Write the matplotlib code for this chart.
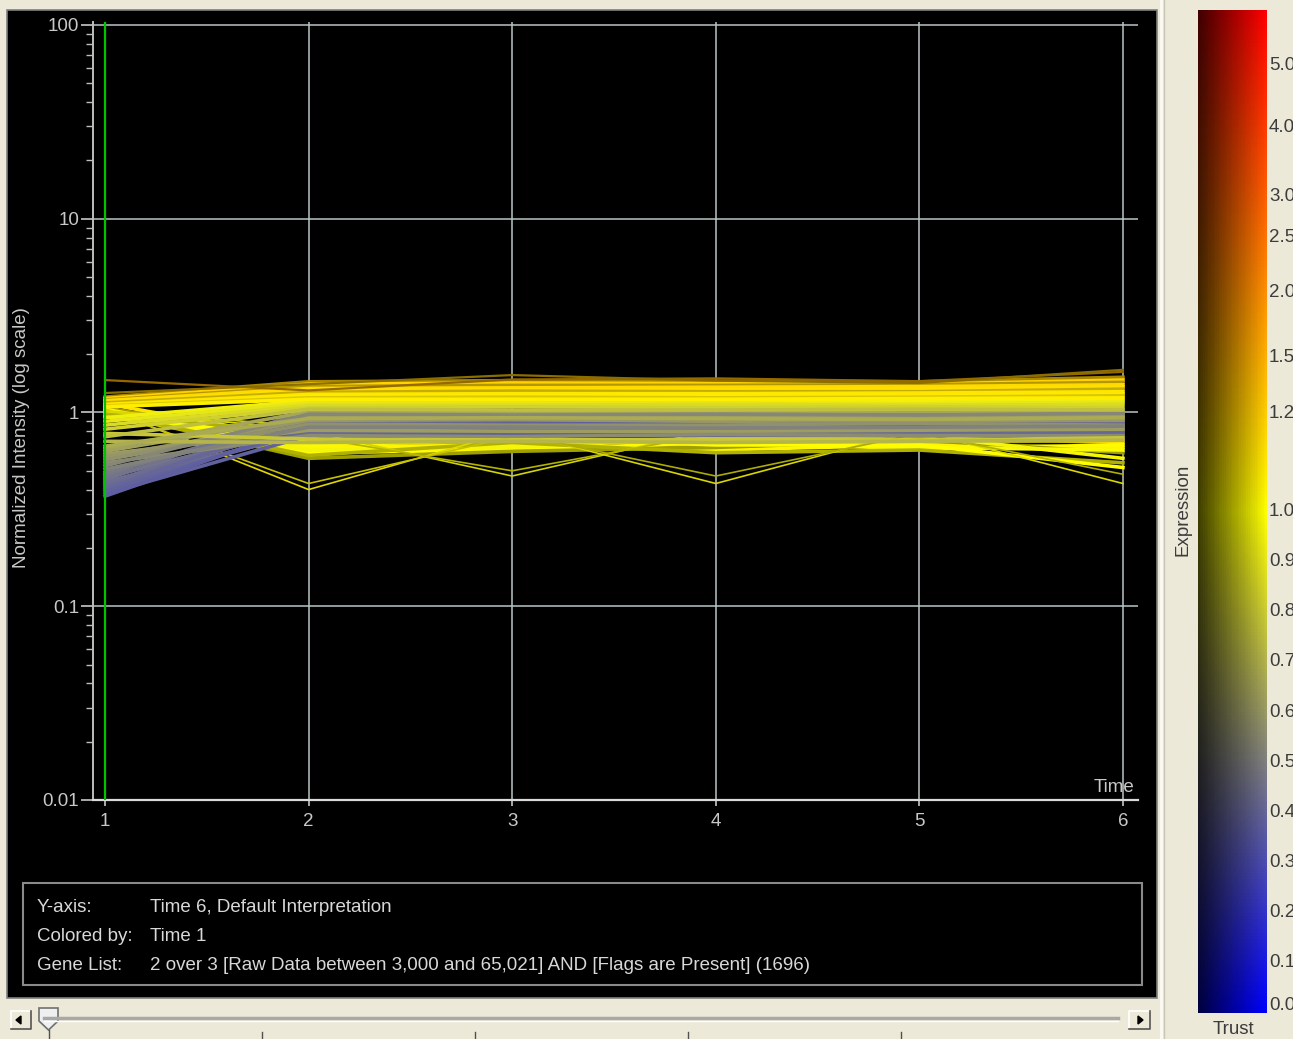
import numpy as np
import matplotlib.pyplot as plt
from matplotlib.patches import Rectangle, Polygon
from matplotlib.ticker import LogLocator, NullFormatter

plt.rcParams['font.family'] = ['Liberation Sans', 'DejaVu Sans']

W, H = 1305, 1039

# ---- data ----
times = [1, 2, 3, 4, 5, 6]
time_labels = ['1', '2', '3', '4', '5', '6']

# genes that start high and stay on top of the band
upper_profiles = [
    [1.20, 1.44, 1.46, 1.45, 1.44, 1.52],
    [1.18, 1.40, 1.42, 1.41, 1.40, 1.47],
    [1.16, 1.36, 1.38, 1.38, 1.39, 1.43],
    [1.15, 1.33, 1.34, 1.35, 1.36, 1.39],
    [1.13, 1.30, 1.31, 1.31, 1.32, 1.36],
    [1.12, 1.27, 1.29, 1.28, 1.28, 1.32],
    [1.10, 1.24, 1.25, 1.25, 1.26, 1.28],
    [1.09, 1.22, 1.22, 1.23, 1.22, 1.25],
    [1.08, 1.19, 1.20, 1.19, 1.20, 1.22],
    [1.07, 1.17, 1.17, 1.17, 1.18, 1.19],
]
upper_trust = [0.55, 1, 0.6, 1, 1, 0.7, 1, 1, 0.8, 1]

# pale yellow genes
middle_profiles = [
    [0.94, 1.15, 1.14, 1.15, 1.15, 1.16],
    [0.90, 1.12, 1.13, 1.12, 1.11, 1.13],
    [0.86, 1.09, 1.09, 1.10, 1.09, 1.10],
    [0.82, 1.06, 1.07, 1.06, 1.07, 1.06],
    [0.78, 0.73, 0.72, 0.73, 0.72, 0.74],
    [0.75, 1.04, 1.03, 1.03, 1.04, 1.03],
    [0.71, 0.70, 0.71, 0.70, 0.71, 0.72],
    [0.67, 0.93, 0.94, 0.93, 0.92, 0.94],
]

gray_profiles = [
    [0.65, 1.01, 1.00, 1.02, 1.01, 1.00],
    [0.63, 0.95, 0.93, 0.95, 0.94, 0.96],
    [0.61, 0.81, 0.80, 0.80, 0.81, 0.82],
    [0.59, 0.91, 0.92, 0.90, 0.91, 0.91],
    [0.57, 0.87, 0.86, 0.86, 0.88, 0.86],
    [0.55, 0.76, 0.75, 0.77, 0.76, 0.76],
    [0.53, 0.98, 0.97, 0.98, 0.97, 0.99],
    [0.51, 0.84, 0.84, 0.83, 0.84, 0.85],
]

blue_profiles = [
    [0.49, 0.90, 0.88, 0.91, 0.89, 0.90],
    [0.48, 0.97, 0.99, 0.96, 0.98, 0.97],
    [0.47, 0.82, 0.84, 0.83, 0.82, 0.84],
    [0.46, 0.86, 0.85, 0.86, 0.87, 0.85],
    [0.45, 1.03, 1.02, 1.04, 1.03, 1.02],
    [0.44, 0.78, 0.79, 0.78, 0.79, 0.80],
    [0.43, 0.93, 0.92, 0.94, 0.93, 0.92],
    [0.42, 0.88, 0.89, 0.87, 0.88, 0.88],
    [0.41, 0.80, 0.78, 0.81, 0.80, 0.79],
    [0.40, 0.95, 0.95, 0.94, 0.96, 0.95],
    [0.39, 0.84, 0.82, 0.84, 0.85, 0.83],
    [0.38, 0.76, 0.77, 0.76, 0.76, 0.77],
    [0.37, 0.86, 0.87, 0.88, 0.86, 0.87],
]

# genes that start high and fall to the lower edge
falling_profiles = [
    [1.11, 0.72, 0.70, 0.72, 0.74, 0.70],
    [1.06, 0.70, 0.66, 0.68, 0.70, 0.72],
    [1.04, 0.66, 0.68, 0.64, 0.68, 0.66],
    [1.02, 0.62, 0.64, 0.70, 0.65, 0.68],
    [1.00, 0.58, 0.63, 0.66, 0.72, 0.62],
    [0.98, 0.68, 0.72, 0.70, 0.66, 0.64],
    [0.96, 0.64, 0.66, 0.74, 0.76, 0.58],
    [0.99, 0.60, 0.70, 0.62, 0.64, 0.55],
    [1.01, 0.70, 0.74, 0.68, 0.68, 0.52],
]
falling_trust = [1, 0.55, 1, 1, 0.5, 1, 1, 0.6, 1]

# single-point dips forming the zig-zag lower edge
dip_profiles = [
    [1.05, 0.40, 0.80, 0.85, 0.80, 0.85],
    [1.03, 0.43, 0.75, 0.80, 0.78, 0.80],
    [0.97, 0.80, 0.47, 0.82, 0.80, 0.85],
    [1.00, 0.75, 0.50, 0.78, 0.75, 0.80],
    [1.02, 0.85, 0.80, 0.43, 0.82, 0.80],
    [0.95, 0.80, 0.78, 0.47, 0.78, 0.82],
    [1.01, 0.82, 0.80, 0.82, 0.80, 0.43],
    [0.98, 0.78, 0.82, 0.80, 0.78, 0.48],
]
dip_trust = [0.85, 0.7, 0.8, 0.6, 0.8, 0.6, 0.8, 0.6]

outlier_profiles = [
    [1.47, 1.30, 1.48, 1.50, 1.45, 1.62],
    [1.26, 1.40, 1.56, 1.46, 1.42, 1.66],
]
outlier_trust = [0.45, 0.4]

# colour bar: expression values and where their labels sit (fraction of bar height)
cbar_values = [0.0, 0.1, 0.2, 0.3, 0.4, 0.5, 0.6, 0.7, 0.8, 0.9, 1.0,
               1.2, 1.5, 2.0, 2.5, 3.0, 4.0, 5.0]
cbar_labels = ['0.0', '0.1', '0.2', '0.3', '0.4', '0.5', '0.6', '0.7', '0.8', '0.9',
               '1.0', '1.2', '1.5', '2.0', '2.5', '3.0', '4.0', '5.0']
cbar_pos = [0.0, 0.05, 0.10, 0.15, 0.20, 0.25, 0.30, 0.35, 0.40, 0.45, 0.50,
            0.598, 0.654, 0.718, 0.773, 0.814, 0.883, 0.945]

ytick_values = [0.01, 0.1, 1, 10, 100]
ytick_labels = ['0.01', '0.1', '1', '10', '100']

info_keys = ['Y-axis:', 'Colored by:', 'Gene List:']
info_vals = ['Time 6, Default Interpretation',
             'Time 1',
             '2 over 3 [Raw Data between 3,000 and 65,021] AND [Flags are Present] (1696)']


def px_rect(x0, y0, x1, y1):
    return [x0 / W, 1 - y1 / H, (x1 - x0) / W, (y1 - y0) / H]


def ftext(x, y, s, **kw):
    return fig.text(x / W, 1 - y / H, s, **kw)


def pos_color(pos):
    pos = np.asarray(pos, dtype=float)
    lo = np.clip(pos / 0.5, 0, 1)
    hi = np.clip((pos - 0.5) / 0.5, 0, 1)
    r = np.where(pos <= 0.5, lo, 1.0)
    g = np.where(pos <= 0.5, lo, 1 - hi)
    b = np.where(pos <= 0.5, 1 - lo, 0.0)
    return np.stack([r, g, b], axis=-1)


def trust_factor(t):
    return 0.25 + 0.75 * np.asarray(t, dtype=float)


def line_color(v1, trust):
    pos = np.interp(v1, cbar_values, cbar_pos)
    return pos_color(pos) * trust_factor(trust)


fig = plt.figure(figsize=(W / 100, H / 100), dpi=100, facecolor='#ECE9D8')

# background layer in pixel coordinates
bg = fig.add_axes([0, 0, 1, 1])
bg.set_xlim(0, W)
bg.set_ylim(H, 0)
bg.axis('off')
bg.set_zorder(-1)
bg.add_patch(Rectangle((7, 10), 1150, 988, facecolor='black', edgecolor='#808080', lw=1.2))
bg.plot([1161, 1161], [0, H], color='#FBFBF6', lw=2)
bg.plot([1164, 1164], [0, H], color='#C9C6B6', lw=1)
bg.add_patch(Rectangle((23, 883), 1119, 102, fill=False, edgecolor='#8A8A8A', lw=1.5))

# slider
bg.plot([44, 1118], [1018, 1018], color='#A8A8A8', lw=2.5)
bg.plot([44, 1118], [1021, 1021], color='#FFFFFF', lw=1)
for tx in [262, 475, 688, 901]:
    bg.plot([tx, tx], [1032, 1039], color='#505050', lw=1)
bg.plot([48.5, 48.5], [1030, 1039], color='#505050', lw=1)
bg.add_patch(Polygon([(39, 1008), (58, 1008), (58, 1021), (48.5, 1030), (39, 1021)],
                     closed=True, facecolor='#EFEFEF', edgecolor='#707070', lw=1.2))
for x0, x1, tri in [(11, 31, [(16, 1020), (21, 1016), (21, 1024)]),
                    (1129, 1150, [(1143, 1020), (1138, 1016), (1138, 1024)])]:
    bg.plot([x0, x0, x1], [1029, 1011, 1011], color='#FFFFFF', lw=1.2)
    bg.plot([x0, x1, x1], [1029, 1029, 1011], color='#555555', lw=1.2)
    bg.add_patch(Polygon(tri, closed=True, facecolor='black', edgecolor='black'))

# ---- main profile plot ----
ax = fig.add_axes(px_rect(93, 22, 1138, 800))
ax.set_facecolor('black')
ax.set_yscale('log')
ax.set_xlim(0.941, 6.074)
ax.set_ylim(0.01, 103.6)

groups = [
    (falling_profiles, falling_trust, 2.6),
    (dip_profiles, dip_trust, 1.2),
    (blue_profiles, [1] * len(blue_profiles), 2.6),
    (gray_profiles, [1] * len(gray_profiles), 2.6),
    (middle_profiles, [1] * len(middle_profiles), 2.6),
    (upper_profiles, upper_trust, 2.6),
    (outlier_profiles, outlier_trust, 1.6),
]
for profs, trusts, lw in groups:
    for prof, tr in zip(profs, trusts):
        ax.plot(times, prof, color=line_color(prof[0], tr), lw=lw, zorder=2)

ax.axvline(1, color='#00C400', lw=1.6, zorder=3)

ax.set_xticks(times, time_labels)
ax.set_yticks(ytick_values, ytick_labels)
ax.yaxis.set_minor_locator(LogLocator(base=10, subs=range(2, 10)))
ax.yaxis.set_minor_formatter(NullFormatter())
ax.grid(True, which='major', color='#BAC6C6', lw=1.1)
ax.set_axisbelow(True)

for s in ['top', 'right']:
    ax.spines[s].set_visible(False)
ax.spines['left'].set_color('#BEBEBE')
ax.spines['bottom'].set_color('#DADADA')
ax.spines['left'].set_linewidth(1.4)
ax.spines['bottom'].set_linewidth(1.6)

ax.tick_params(axis='y', which='major', direction='out', length=9, width=1.2,
               colors='#C8C8C8', labelsize=13.5, pad=1)
ax.tick_params(axis='y', which='minor', direction='out', length=5, width=1.0, colors='#BEBEBE')
ax.tick_params(axis='x', direction='out', length=4, width=1.2, colors='#C8C8C8',
               labelsize=13.5, pad=5)

ftext(1134, 787, 'Time', ha='right', va='center', color='#C8C8C8', fontsize=13.5)
ftext(22, 438, 'Normalized Intensity (log scale)', rotation=90, ha='center', va='center',
      color='#C8C8C8', fontsize=13.5)

for i, (k, v) in enumerate(zip(info_keys, info_vals)):
    y = 908 + 28.5 * i
    ftext(37, y, k, ha='left', va='center', color='#D8D8D8', fontsize=13.5)
    ftext(150, y, v, ha='left', va='center', color='#D8D8D8', fontsize=13.5)

# ---- colour bar (expression vertically, trust horizontally) ----
cax = fig.add_axes(px_rect(1198, 10, 1267, 1013))
rows = np.linspace(0, 1, 300)
cols = np.linspace(0, 1, 40)
img = pos_color(rows)[:, None, :] * trust_factor(cols)[None, :, None]
cax.imshow(img, origin='lower', aspect='auto', extent=(0, 1, 0, 1), interpolation='nearest')
cax.axis('off')

for lab, p in zip(cbar_labels, cbar_pos):
    y = min(1013 - p * 1003, 1006)
    ftext(1269, y, lab, ha='left', va='center', color='#3C3C3C', fontsize=13.5)

ftext(1183, 510, 'Expression', rotation=90, ha='center', va='center', color='#3C3C3C',
      fontsize=13.5)
ftext(1233, 1030, 'Trust', ha='center', va='center', color='#3C3C3C', fontsize=13.5)

fig.add_artist(Rectangle((1293 / W, 0), 12 / W, 1, transform=fig.transFigure,
                         facecolor='white', edgecolor='none', zorder=10))

fig.savefig('out.png', dpi=100, facecolor=fig.get_facecolor())
